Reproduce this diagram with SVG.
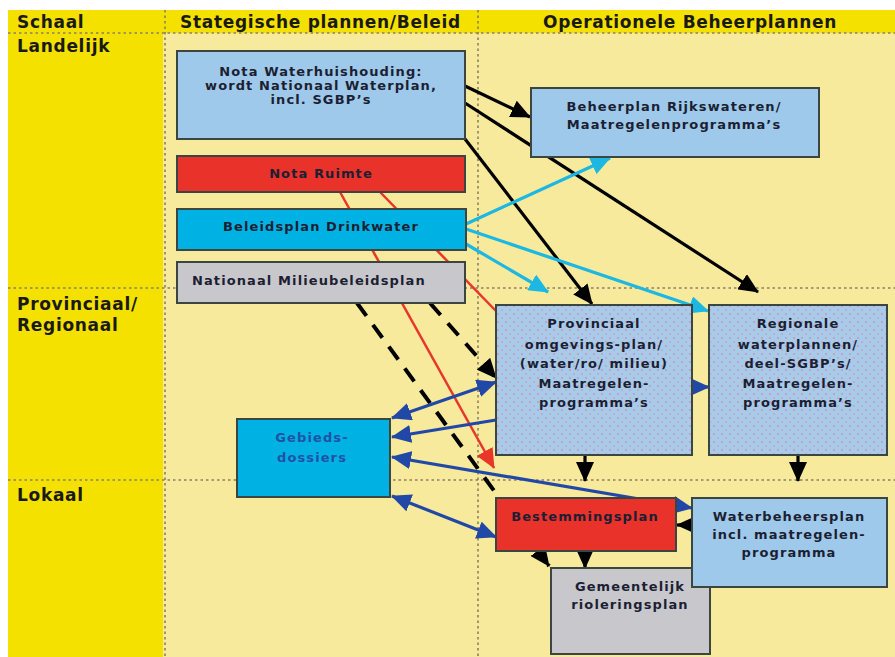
<svg xmlns="http://www.w3.org/2000/svg" width="895" height="657" viewBox="0 0 895 657">
<defs>
<style>
.hdr{font-family:"DejaVu Sans","Liberation Sans",sans-serif;font-weight:bold;font-size:17px;letter-spacing:0.7px;fill:#1a1a14}
.t{font-family:"DejaVu Sans","Liberation Sans",sans-serif;font-weight:bold;font-size:13px;letter-spacing:1.1px;fill:#1c1f33;text-anchor:middle}
.box{stroke:#3b4640;stroke-width:2}
.lb{fill:#9ec9ea}
.cy{fill:#00b2e4}
.rd{fill:#e8322a}
.gr{fill:#c8c8cc}
.dot{fill:none;stroke:#8a8060;stroke-width:1.6;stroke-dasharray:2.5 3}
.k{stroke:#000;stroke-width:3.2;fill:none}
.kd{stroke:#000;stroke-width:4;fill:none;stroke-dasharray:16 11}
.c{stroke:#1cb7e2;stroke-width:3.2;fill:none}
.r{stroke:#e8362a;stroke-width:2.5;fill:none}
.b{stroke:#2148a6;stroke-width:3.2;fill:none}
</style>
<pattern id="dots" width="8" height="8" patternUnits="userSpaceOnUse">
<rect width="8" height="8" fill="#a9cbea"/>
<circle cx="2" cy="2" r="1.1" fill="#c896c0"/>
<circle cx="6" cy="6" r="1.1" fill="#b9a8cc"/>
</pattern>
<marker id="ak" markerUnits="userSpaceOnUse" viewBox="0 0 20 18" refX="19" refY="9" markerWidth="20" markerHeight="18" orient="auto"><path d="M0,0 L20,9 L0,18 Z" fill="#000"/></marker>
<marker id="ac" markerUnits="userSpaceOnUse" viewBox="0 0 20 18" refX="19" refY="9" markerWidth="20" markerHeight="18" orient="auto"><path d="M0,0 L20,9 L0,18 Z" fill="#1cb7e2"/></marker>
<marker id="ar" markerUnits="userSpaceOnUse" viewBox="0 0 20 18" refX="19" refY="9" markerWidth="20" markerHeight="18" orient="auto"><path d="M0,0 L20,9 L0,18 Z" fill="#e8362a"/></marker>
<marker id="ab" markerUnits="userSpaceOnUse" viewBox="0 0 20 18" refX="19" refY="9" markerWidth="20" markerHeight="18" orient="auto-start-reverse"><path d="M0,0 L20,9 L0,18 Z" fill="#2148a6"/></marker>
</defs>

<rect x="0" y="0" width="895" height="657" fill="#ffffff"/>
<rect x="8" y="10" width="887" height="647" fill="#f7ea9c"/>
<rect x="8" y="10" width="887" height="23" fill="#f5e100"/>
<rect x="8" y="10" width="155" height="647" fill="#f5e100"/>

<g id="grid">
<line class="dot" x1="8" y1="33" x2="895" y2="33"/>
<line class="dot" x1="8" y1="288" x2="895" y2="288"/>
<line class="dot" x1="8" y1="480" x2="895" y2="480"/>
<line class="dot" x1="165" y1="10" x2="165" y2="657"/>
<line class="dot" x1="478" y1="10" x2="478" y2="657"/>
</g>

<g id="labels">
<text class="hdr" x="17" y="28">Schaal</text>
<text class="hdr" x="180" y="28">Stategische plannen/Beleid</text>
<text class="hdr" x="543" y="28">Operationele Beheerplannen</text>
<text class="hdr" x="17" y="52">Landelijk</text>
<text class="hdr" x="17" y="310">Provinciaal/</text>
<text class="hdr" x="17" y="331">Regionaal</text>
<text class="hdr" x="17" y="501">Lokaal</text>
</g>

<g id="connectors">
<line class="r" x1="340" y1="192" x2="494" y2="468" marker-end="url(#ar)"/>
<line class="r" x1="380" y1="192" x2="497" y2="312"/>
<line class="kd" x1="357" y1="303" x2="549" y2="566" marker-end="url(#ak)"/>
<line class="kd" x1="430" y1="303" x2="496" y2="378" marker-end="url(#ak)"/>
<line class="k" x1="465" y1="86" x2="530" y2="117" marker-end="url(#ak)"/>
<line class="k" x1="465" y1="103" x2="758" y2="292" marker-end="url(#ak)"/>
<line class="k" x1="455" y1="126" x2="592" y2="304" marker-end="url(#ak)"/>
<line class="c" x1="466" y1="224" x2="610" y2="158" marker-end="url(#ac)"/>
<line class="c" x1="466" y1="244" x2="548" y2="292" marker-end="url(#ac)"/>
<line class="c" x1="466" y1="229" x2="708" y2="311" marker-end="url(#ac)"/>
<line class="b" x1="392" y1="418" x2="496" y2="382" marker-start="url(#ab)" marker-end="url(#ab)"/>
<line class="b" x1="496" y1="420" x2="392" y2="437" marker-end="url(#ab)"/>
<line class="b" x1="392" y1="457" x2="692" y2="508" marker-start="url(#ab)" marker-end="url(#ab)"/>
<line class="b" x1="392" y1="496" x2="496" y2="537" marker-start="url(#ab)" marker-end="url(#ab)"/>
<line class="b" x1="692" y1="387" x2="709" y2="387" marker-end="url(#ab)"/>
<line class="k" x1="585" y1="455" x2="585" y2="481" marker-end="url(#ak)"/>
<line class="k" x1="798" y1="455" x2="798" y2="481" marker-end="url(#ak)"/>
<line class="k" x1="695" y1="525" x2="677" y2="525" marker-end="url(#ak)"/>
<line class="k" x1="585" y1="551" x2="585" y2="568" marker-end="url(#ak)"/>
</g>

<g id="nota-waterhuishouding">
<rect class="box lb" x="177" y="51" width="288" height="88"/>
<text class="t" x="321" y="76">Nota Waterhuishouding:</text>
<text class="t" x="321" y="90">wordt Nationaal Waterplan,</text>
<text class="t" x="321" y="104">incl. SGBP’s</text>
</g>
<g id="beheerplan-rijkswateren">
<rect class="box lb" x="531" y="88" width="288" height="69"/>
<text class="t" x="674" y="111">Beheerplan Rijkswateren/</text>
<text class="t" x="674" y="129">Maatregelenprogramma’s</text>
</g>
<g id="nota-ruimte">
<rect class="box rd" x="177" y="156" width="288" height="36"/>
<text class="t" x="321" y="178">Nota Ruimte</text>
</g>
<g id="beleidsplan-drinkwater">
<rect class="box cy" x="177" y="209" width="289" height="41"/>
<text class="t" x="321" y="231">Beleidsplan Drinkwater</text>
</g>
<g id="nationaal-milieubeleidsplan">
<rect class="box gr" x="177" y="262" width="288" height="41"/>
<text class="t" x="192" y="285" style="text-anchor:start">Nationaal Milieubeleidsplan</text>
</g>
<g id="provinciaal">
<rect class="box" fill="url(#dots)" x="496" y="305" width="196" height="150"/>
<text class="t" x="594" y="328">Provinciaal</text>
<text class="t" x="594" y="349">omgevings-plan/</text>
<text class="t" x="594" y="368">(water/ro/ milieu)</text>
<text class="t" x="594" y="388">Maatregelen-</text>
<text class="t" x="594" y="407">programma’s</text>
</g>
<g id="regionale">
<rect class="box" fill="url(#dots)" x="709" y="305" width="178" height="150"/>
<text class="t" x="798" y="328">Regionale</text>
<text class="t" x="798" y="349">waterplannen/</text>
<text class="t" x="798" y="368">deel-SGBP’s/</text>
<text class="t" x="798" y="388">Maatregelen-</text>
<text class="t" x="798" y="407">programma’s</text>
</g>
<g id="gebiedsdossiers">
<rect class="box cy" x="237" y="419" width="153" height="78"/>
<text class="t" x="312" y="442" style="fill:#1f52a6">Gebieds-</text>
<text class="t" x="312" y="462" style="fill:#1f52a6">dossiers</text>
</g>
<g id="bestemmingsplan">
<rect class="box rd" x="496" y="498" width="180" height="53"/>
<text class="t" x="585" y="521">Bestemmingsplan</text>
</g>
<g id="gemeentelijk-rioleringsplan">
<rect class="box gr" x="551" y="568" width="159" height="86"/>
<text class="t" x="630" y="591">Gemeentelijk</text>
<text class="t" x="630" y="609">rioleringsplan</text>
</g>
<g id="waterbeheersplan">
<rect class="box lb" x="692" y="498" width="195" height="89"/>
<text class="t" x="789" y="521">Waterbeheersplan</text>
<text class="t" x="789" y="539">incl. maatregelen-</text>
<text class="t" x="789" y="557">programma</text>
</g>
</svg>
